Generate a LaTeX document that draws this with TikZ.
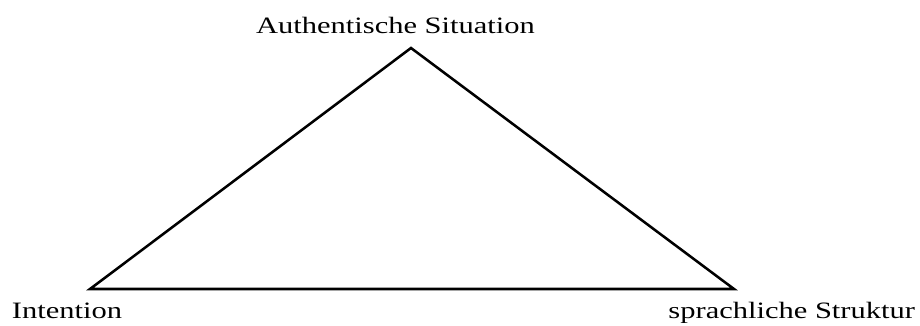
\documentclass[tikz,border=0pt]{standalone}
\usepackage{fontspec}
\setmainfont{Liberation Serif}[FakeStretch=1.3]
\tikzset{px/.style={x=.75pt,y=-.75pt,line width=1.9pt,line join=miter,font=\fontsize{17.6}{20}\selectfont},
  lbl/.style={inner sep=0pt,outer sep=0pt}}
\begin{document}
\begin{tikzpicture}[px]
  \useasboundingbox (0,0) rectangle (920,325);
  \coordinate (sit) at (411,48);\coordinate (int) at (90,289);\coordinate (str) at (734,289);
  \draw (sit)--(int)--(str)--cycle;
  \node[lbl,anchor=base] (sitlbl) at (395.5,33){Authentische Situation};
  \node[lbl,anchor=base west] (intlbl) at (12,318){Intention};
  \node[lbl,anchor=base east] (strlbl) at (915,318){sprachliche Struktur};
\end{tikzpicture}
\end{document}
